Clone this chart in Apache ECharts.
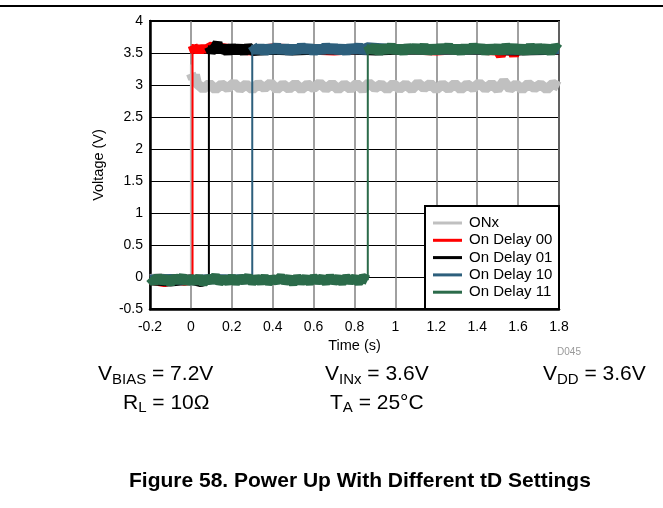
<!DOCTYPE html>
<html>
<head>
<meta charset="utf-8">
<script src="https://cdn.jsdelivr.net/npm/echarts@6/dist/echarts.min.js"></script>
<style>
  html, body { margin: 0; padding: 0; background: #fff; }
  #chart { width: 663px; height: 508px; }
</style>
</head>
<body>
<div id="chart"></div>
<script>
// 曲线数据 [时间(s), 电压(V)]，从图上读出（噪声带按图上的抖动幅度估读）
var onxLow = [[-0.2, -0.03], [-0.15, -0.02], [-0.1, -0.05], [-0.05, -0.03], [0.0, -0.03]];
var onxStep = [[0.0, -0.03], [0.0, 3.32]];
var onxHigh = [[0.0, 3.18], [0.01, 3.1], [0.02, 3.16], [0.03, 3.02], [0.06, 2.94], [0.09, 3.02], [0.12, 2.93],
  [0.15, 3.01], [0.18, 2.95], [0.21, 3.03], [0.24, 2.94], [0.27, 3.01], [0.3, 2.93], [0.33, 3.02], [0.36, 2.95],
  [0.39, 3.03], [0.42, 2.93], [0.45, 3.01], [0.48, 2.94], [0.51, 3.02], [0.54, 2.93], [0.57, 3.01], [0.6, 2.95],
  [0.63, 3.03], [0.66, 2.94], [0.69, 3.02], [0.72, 2.93], [0.75, 3.01], [0.78, 2.94], [0.81, 3.02], [0.84, 2.93],
  [0.87, 3.03], [0.9, 2.95], [0.93, 3.01], [0.96, 2.93], [0.99, 3.02], [1.02, 2.94], [1.05, 3.01], [1.08, 2.93],
  [1.11, 3.03], [1.14, 2.95], [1.17, 3.02], [1.2, 2.93], [1.23, 3.01], [1.26, 2.94], [1.29, 3.02], [1.32, 2.93],
  [1.35, 3.01], [1.38, 2.95], [1.41, 3.03], [1.44, 2.94], [1.47, 3.02], [1.5, 2.93], [1.53, 3.06], [1.56, 2.94],
  [1.59, 3.01], [1.62, 2.93], [1.65, 3.02], [1.68, 2.95], [1.71, 3.01], [1.74, 2.93], [1.77, 3.02], [1.8, 2.97]];

var d00Low = [[-0.2, -0.04], [-0.13, -0.08], [-0.08, -0.03], [-0.03, -0.06], [0.008, -0.04]];
var d00Step = [[0.008, -0.04], [0.008, 3.64]];
var d00High = [[0.008, 3.62], [0.02, 3.52], [0.03, 3.61], [0.04, 3.51], [0.05, 3.6], [0.06, 3.52], [0.07, 3.61],
  [0.08, 3.53], [0.09, 3.6], [0.2, 3.56], [0.3, 3.54], [0.4, 3.57], [0.5, 3.56], [0.6, 3.55], [0.7, 3.54],
  [0.8, 3.56], [0.9, 3.55], [1.0, 3.56], [1.1, 3.55], [1.2, 3.54], [1.3, 3.56], [1.4, 3.55], [1.5, 3.54],
  [1.515, 3.46], [1.525, 3.54], [1.57, 3.54], [1.58, 3.46], [1.59, 3.55], [1.7, 3.56], [1.8, 3.55]];

var d01Low = [[-0.2, -0.05], [-0.1, -0.07], [0.0, -0.04], [0.05, -0.08], [0.088, -0.04]];
var d01Step = [[0.088, -0.04], [0.088, 3.62]];
var d01High = [[0.088, 3.6], [0.1, 3.52], [0.12, 3.6], [0.13, 3.66], [0.14, 3.53], [0.16, 3.59], [0.18, 3.51],
  [0.2, 3.6], [0.22, 3.52], [0.24, 3.59], [0.26, 3.51], [0.28, 3.6], [0.3, 3.53], [0.4, 3.55], [0.5, 3.54],
  [0.6, 3.55], [0.7, 3.56], [0.8, 3.55], [0.9, 3.54], [1.0, 3.55], [1.2, 3.56], [1.4, 3.55], [1.6, 3.54], [1.8, 3.55]];

var d10Low = [[-0.2, -0.04], [-0.1, -0.03], [0.0, -0.05], [0.1, -0.03], [0.2, -0.04], [0.3, -0.03]];
var d10Step = [[0.3, -0.03], [0.3, 3.63]];
var d10High = [[0.3, 3.62], [0.32, 3.52], [0.34, 3.6], [0.36, 3.51], [0.38, 3.59], [0.4, 3.53], [0.42, 3.61],
  [0.44, 3.52], [0.46, 3.6], [0.48, 3.51], [0.5, 3.59], [0.52, 3.52], [0.54, 3.61], [0.56, 3.53], [0.58, 3.6],
  [0.6, 3.51], [0.62, 3.59], [0.64, 3.52], [0.66, 3.61], [0.68, 3.53], [0.7, 3.6], [0.72, 3.52], [0.74, 3.59],
  [0.76, 3.51], [0.78, 3.6], [0.8, 3.53], [0.82, 3.61], [0.84, 3.52], [0.86, 3.59], [1.0, 3.56], [1.2, 3.55],
  [1.4, 3.56], [1.6, 3.55], [1.8, 3.56]];

var d11Low = [[-0.2, -0.01], [-0.18, -0.08], [-0.16, 0.0], [-0.14, -0.07], [-0.12, -0.02], [-0.1, -0.09],
  [-0.08, -0.01], [-0.06, -0.06], [-0.04, 0.0], [-0.02, -0.08], [0.0, -0.02], [0.02, -0.07], [0.04, -0.01],
  [0.06, -0.09], [0.08, -0.02], [0.1, -0.06], [0.12, 0.01], [0.14, -0.08], [0.16, -0.03], [0.18, -0.07],
  [0.2, -0.01], [0.22, -0.08], [0.24, -0.02], [0.26, -0.06], [0.28, 0.0], [0.3, -0.08], [0.32, -0.02],
  [0.34, -0.07], [0.36, -0.01], [0.38, -0.08], [0.4, -0.03], [0.42, -0.06], [0.44, 0.0], [0.46, -0.07],
  [0.48, -0.02], [0.5, -0.09], [0.52, -0.01], [0.54, -0.07], [0.56, -0.02], [0.58, -0.08], [0.6, -0.01],
  [0.62, -0.06], [0.64, -0.02], [0.66, -0.08], [0.68, 0.0], [0.7, -0.07], [0.72, -0.02], [0.74, -0.08],
  [0.76, -0.01], [0.78, -0.06], [0.8, -0.02], [0.82, -0.08], [0.84, -0.01], [0.865, -0.05]];
var d11Step = [[0.865, -0.05], [0.865, 3.64]];
var d11High = [[0.865, 3.62], [0.88, 3.52], [0.9, 3.6], [0.92, 3.51], [0.94, 3.59], [0.96, 3.53], [0.98, 3.61],
  [1.0, 3.52], [1.02, 3.59], [1.04, 3.51], [1.06, 3.6], [1.08, 3.53], [1.1, 3.6], [1.12, 3.52], [1.14, 3.61],
  [1.16, 3.51], [1.18, 3.59], [1.2, 3.52], [1.22, 3.6], [1.24, 3.53], [1.26, 3.61], [1.28, 3.52], [1.3, 3.59],
  [1.32, 3.51], [1.34, 3.6], [1.36, 3.52], [1.38, 3.61], [1.4, 3.53], [1.42, 3.6], [1.44, 3.51], [1.46, 3.59],
  [1.48, 3.52], [1.5, 3.6], [1.52, 3.51], [1.54, 3.61], [1.56, 3.53], [1.58, 3.6], [1.6, 3.52], [1.62, 3.59],
  [1.64, 3.51], [1.66, 3.61], [1.68, 3.52], [1.7, 3.6], [1.72, 3.53], [1.74, 3.59], [1.76, 3.51], [1.78, 3.6],
  [1.8, 3.55]];

var seriesNames = ['ONx', 'On Delay 00', 'On Delay 01', 'On Delay 10', 'On Delay 11'];
var seriesColors = ['#C0C0C0', '#FF0000', '#000000', '#2D5F7C', '#2B6B4A'];
var traces = [
  [onxLow, onxStep, onxHigh],
  [d00Low, d00Step, d00High],
  [d01Low, d01Step, d01High],
  [d10Low, d10Step, d10High],
  [d11Low, d11Step, d11High]
];

// 测试条件文字：[主体, 下标, 其余, x, 基线y]
var conditions = [
  ['V', 'BIAS', ' = 7.2V', 98, 381.5],
  ['R', 'L', ' = 10Ω', 123, 410],
  ['V', 'INx', ' = 3.6V', 325, 381.5],
  ['T', 'A', ' = 25°C', 330, 410],
  ['V', 'DD', ' = 3.6V', 543, 381.5]
];

var FONT = '"Liberation Sans", Arial, sans-serif';

var series = [];
traces.forEach(function (t, i) {
  // 每条曲线分三段：低电平噪声带、跳变、高电平噪声带
  var widths = [10, 2, 10];
  t.forEach(function (part, k) {
    series.push({
      name: seriesNames[i],
      type: 'line',
      data: part,
      showSymbol: false,
      symbol: 'none',
      silent: true,
      animation: false,
      itemStyle: { color: seriesColors[i] },
      lineStyle: { color: seriesColors[i], width: widths[k], join: 'bevel', cap: 'butt' }
    });
  });
});

// 下标文字用单独的 text 元素拼出来
var ctx = document.createElement('canvas').getContext('2d');
function textWidth(s, size) {
  ctx.font = size + 'px ' + FONT;
  return ctx.measureText(s).width;
}
var graphics = [
  { type: 'line', shape: { x1: 0, y1: 6, x2: 663, y2: 6 }, style: { stroke: '#000', lineWidth: 2 }, z: 10 },
  { type: 'rect', shape: { x: 425, y: 206, width: 134, height: 103 },
    style: { fill: '#fff', stroke: '#000', lineWidth: 2 }, z: 15 },
  { type: 'text', x: 569, y: 352, style: { text: 'D045', fill: '#999', font: '10px ' + FONT, align: 'center', verticalAlign: 'middle' } },
  { type: 'text', x: 129, y: 481, style: { text: 'Figure 58. Power Up With Different tD Settings',
    fill: '#000', font: 'bold 21px ' + FONT, verticalAlign: 'middle' } }
];
conditions.forEach(function (c) {
  var x = c[3], base = c[4];
  var w1 = textWidth(c[0], 21), w2 = textWidth(c[1], 15);
  graphics.push({ type: 'text', x: x, y: base - 7, style: { text: c[0], fill: '#000', font: '21px ' + FONT, verticalAlign: 'middle' } });
  graphics.push({ type: 'text', x: x + w1, y: base + 3 - 5, style: { text: c[1], fill: '#000', font: '15px ' + FONT, verticalAlign: 'middle' } });
  graphics.push({ type: 'text', x: x + w1 + w2, y: base - 7, style: { text: c[2], fill: '#000', font: '21px ' + FONT, verticalAlign: 'middle' } });
});

var chart = echarts.init(document.getElementById('chart'), null, { renderer: 'canvas' });
chart.setOption({
  animation: false,
  textStyle: { fontFamily: FONT },
  grid: { left: 150, right: 104, top: 21, bottom: 199, show: true, borderColor: '#000', borderWidth: 2, containLabel: false },
  xAxis: {
    type: 'value', min: -0.2, max: 1.8, interval: 0.2,
    name: 'Time (s)', nameLocation: 'middle', nameGap: 25,
    nameTextStyle: { color: '#000', fontSize: 14.5, fontFamily: FONT },
    axisLine: { show: true, onZero: false, lineStyle: { color: '#000', width: 2.5 } },
    axisTick: { show: false },
    axisLabel: { color: '#000', fontSize: 14, fontFamily: FONT, margin: 11,
      formatter: function (v) { return String(Math.round(v * 10) / 10); } },
    splitLine: { show: true, lineStyle: { color: '#808080', width: 1.5 } }
  },
  yAxis: {
    type: 'value', min: -0.5, max: 4, interval: 0.5,
    name: 'Voltage (V)', nameLocation: 'middle', nameGap: 44, nameRotate: 90,
    nameTextStyle: { color: '#000', fontSize: 14.5, fontFamily: FONT },
    axisLine: { show: true, onZero: false, lineStyle: { color: '#000', width: 2.5 } },
    axisTick: { show: false },
    axisLabel: { color: '#000', fontSize: 14, fontFamily: FONT, margin: 7,
      formatter: function (v) { return String(Math.round(v * 10) / 10); } },
    splitLine: { show: true, lineStyle: { color: '#000', width: 1 } }
  },
  legend: {
    data: seriesNames,
    orient: 'vertical',
    left: 433, top: 214.5, padding: 0,
    icon: 'rect', itemWidth: 29, itemHeight: 3, itemGap: 0.3,
    textStyle: { color: '#000', fontSize: 15, lineHeight: 17, fontFamily: FONT, padding: [0, 0, 0, 2] },
    z: 20
  },
  graphic: graphics,
  series: series
});
</script>
</body>
</html>
